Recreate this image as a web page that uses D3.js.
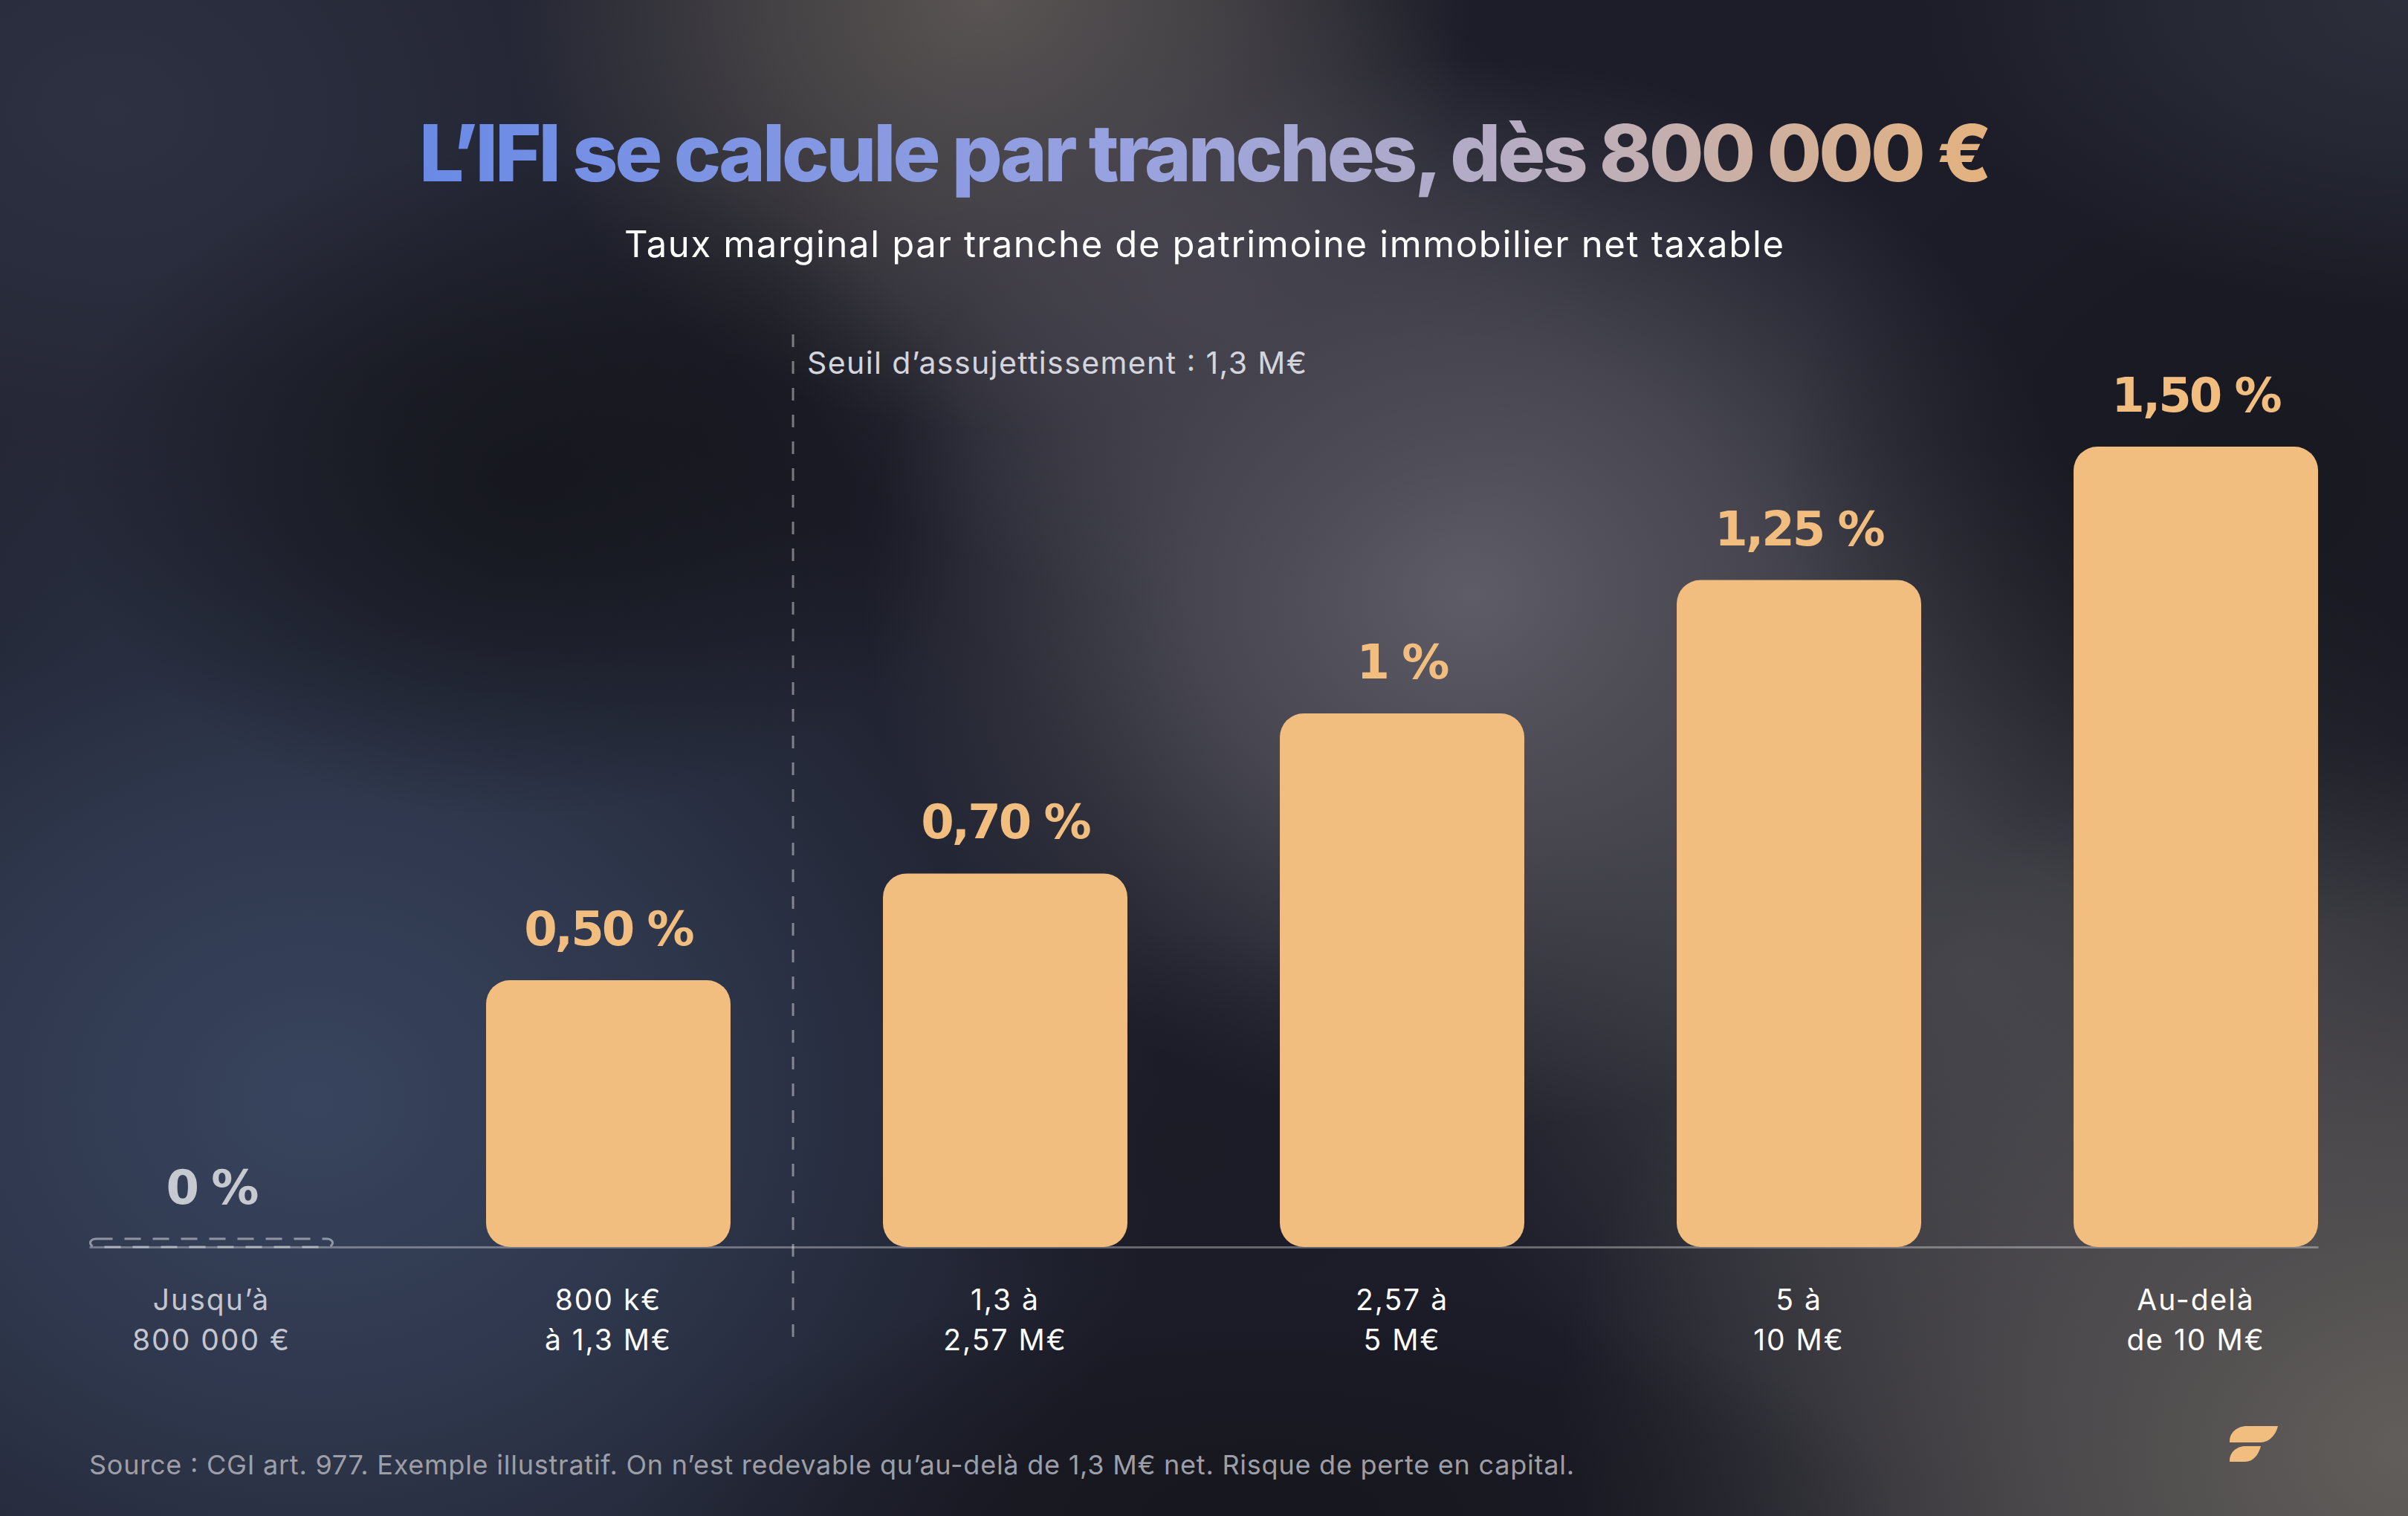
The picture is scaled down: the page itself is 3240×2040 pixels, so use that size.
<!DOCTYPE html>
<html>
<head>
<meta charset="utf-8">
<script src="https://cdn.jsdelivr.net/npm/d3@7"></script>
<style>
  html, body { margin: 0; padding: 0; background: #1a1b27; }
  svg { display: block; }
</style>
</head>
<body>
<div id="chart"></div>
<script>
// IFI tranches - marginal rate per bracket

var catLine1 = ["Jusqu’à", "800 k€", "1,3 à", "2,57 à", "5 à", "Au-delà"];
var catLine2 = ["800 000 €", "à 1,3 M€", "2,57 M€", "5 M€", "10 M€", "de 10 M€"];
var rates = [0, 0.5, 0.7, 1, 1.25, 1.5];
var rateLabels = ["0 %", "0,50 %", "0,70 %", "1 %", "1,25 %", "1,50 %"];
var yMax = 1.5;

var titleText = "L’IFI se calcule par tranches, dès 800 000 €";
var subtitleText = "Taux marginal par tranche de patrimoine immobilier net taxable";
var seuilText = "Seuil d’assujettissement : 1,3 M€";
var sourceText = "Source : CGI art. 977. Exemple illustratif. On n’est redevable qu’au-delà de 1,3 M€ net. Risque de perte en capital.";

var W = 3240, H = 2040;
var margin = {top: 601, left: 120, right: 121, bottom: 362};
var baseY = H - margin.bottom;

var svg = d3.select("#chart")
    .append("svg")
    .attr("width", W)
    .attr("height", H);

var defs = svg.append("defs");

// background: base colour + soft radial glows
svg.append("rect").attr("width", W).attr("height", H).attr("fill", "#1c1d29");

var glows = [
    {cx: 150, cy: 150, rx: 950, ry: 750, c: "#2e3243", o: 0.95},
    {cx: 420, cy: 1480, rx: 1150, ry: 980, c: "#38445e", o: 1},
    {cx: 1330, cy: 0, rx: 650, ry: 580, c: "#5a5553", o: 1},
    {cx: 1980, cy: 800, rx: 820, ry: 720, c: "#5e5c66", o: 1},
    {cx: 1600, cy: 380, rx: 560, ry: 440, c: "#4a4752", o: 0.7},
    {cx: 3240, cy: 1950, rx: 1150, ry: 950, c: "#625e5b", o: 1},
    {cx: 2650, cy: 1300, rx: 800, ry: 700, c: "#504f54", o: 0.75},
    {cx: 700, cy: 650, rx: 620, ry: 450, c: "#131419", o: 0.8},
    {cx: 3050, cy: 650, rx: 650, ry: 600, c: "#17181f", o: 0.85},
    {cx: 1700, cy: 2040, rx: 850, ry: 320, c: "#15151c", o: 0.8},
    {cx: 1600, cy: 1550, rx: 380, ry: 300, c: "#1b1b25", o: 0.6},
    {cx: 3240, cy: 0, rx: 650, ry: 420, c: "#30333f", o: 0.8}
];

glows.forEach(function(d, i) {
    var g = defs.append("radialGradient").attr("id", "glow" + i);
    g.append("stop").attr("offset", "0%").attr("stop-color", d.c).attr("stop-opacity", d.o);
    g.append("stop").attr("offset", "45%").attr("stop-color", d.c).attr("stop-opacity", d.o * 0.65);
    g.append("stop").attr("offset", "100%").attr("stop-color", d.c).attr("stop-opacity", 0);
});

svg.append("g").selectAll("ellipse")
    .data(glows)
    .enter().append("ellipse")
    .attr("cx", function(d) { return d.cx; })
    .attr("cy", function(d) { return d.cy; })
    .attr("rx", function(d) { return d.rx; })
    .attr("ry", function(d) { return d.ry; })
    .attr("fill", function(d, i) { return "url(#glow" + i + ")"; });

// title gradient
var grad = defs.append("linearGradient").attr("id", "titleGrad")
    .attr("gradientUnits", "userSpaceOnUse")
    .attr("x1", 564).attr("x2", 2676).attr("y1", 0).attr("y2", 0);
grad.append("stop").attr("offset", "0%").attr("stop-color", "#6a8ae6");
grad.append("stop").attr("offset", "45%").attr("stop-color", "#98a2e0");
grad.append("stop").attr("offset", "72%").attr("stop-color", "#b9aec0");
grad.append("stop").attr("offset", "100%").attr("stop-color", "#e4b27e");

svg.append("text")
    .attr("x", W / 2)
    .attr("y", 244)
    .attr("text-anchor", "middle")
    .attr("font-family", "Inter")
    .attr("font-weight", 800)
    .attr("font-size", 106)
    .attr("letter-spacing", "-4px")
    .attr("fill", "url(#titleGrad)")
    .attr("textLength", 2112)
    .attr("lengthAdjust", "spacingAndGlyphs")
    .text(titleText);

svg.append("text")
    .attr("x", W / 2)
    .attr("y", 346)
    .attr("text-anchor", "middle")
    .attr("font-family", "Inter")
    .attr("font-weight", 400)
    .attr("font-size", 49)
    .attr("fill", "#ffffff")
    .attr("textLength", 1560)
    .attr("lengthAdjust", "spacing")
    .text(subtitleText);

// scales
var x = d3.scaleBand()
    .range([margin.left, W - margin.right])
    .domain(d3.range(rates.length))
    .paddingInner(0.384)
    .paddingOuter(0);

var y = d3.scaleLinear()
    .domain([0, yMax])
    .range([baseY, margin.top]);

// threshold dashed line between bracket 2 and 3
var seuilX = x(1) + x.bandwidth() + (x.step() - x.bandwidth()) * 0.41;
svg.append("line")
    .attr("x1", seuilX).attr("x2", seuilX)
    .attr("y1", 450).attr("y2", 1800)
    .attr("stroke", "rgba(255,255,255,0.42)")
    .attr("stroke-width", 3)
    .attr("stroke-dasharray", "17,19");

svg.append("text")
    .attr("x", seuilX + 19)
    .attr("y", 503)
    .attr("font-family", "Inter")
    .attr("font-size", 41)
    .attr("fill", "#d4d5dc")
    .attr("textLength", 672)
    .attr("lengthAdjust", "spacing")
    .text(seuilText);

// X axis
var xAxis = svg.append("g")
    .attr("class", "myXaxis")
    .attr("transform", "translate(0," + baseY + ")")
    .call(d3.axisBottom(x).tickSize(0).tickSizeOuter(0).tickFormat(function() { return ""; }));

xAxis.select(".domain")
    .attr("stroke", "rgba(255,255,255,0.32)")
    .attr("stroke-width", 3);

xAxis.selectAll(".tick text").remove();
xAxis.selectAll(".tick").each(function(i) {
    var t = d3.select(this).append("text")
        .attr("text-anchor", "middle")
        .attr("font-family", "Inter")
        .attr("font-size", 39)
        .attr("letter-spacing", "2px")
        .attr("fill", i === 0 ? "#c3c6ce" : "#ffffff")
        .attr("y", 85);
    t.append("tspan").attr("x", 0).text(catLine1[i]);
    t.append("tspan").attr("x", 0).attr("dy", 54).text(catLine2[i]);
});

// bars
var barData = rates.map(function(r, i) { return {i: i, rate: r, label: rateLabels[i]}; });

svg.selectAll(".bar")
    .data(barData.filter(function(d) { return d.rate > 0; }))
    .enter().append("rect")
    .attr("class", "bar")
    .attr("x", function(d) { return x(d.i); })
    .attr("y", function(d) { return y(d.rate); })
    .attr("width", x.bandwidth())
    .attr("height", function(d) { return baseY - y(d.rate); })
    .attr("rx", 32)
    .attr("fill", "#f2be80");

// zero bracket: dashed placeholder
svg.selectAll(".zerobar")
    .data(barData.filter(function(d) { return d.rate === 0; }))
    .enter().append("rect")
    .attr("class", "zerobar")
    .attr("x", function(d) { return x(d.i) + 1.5; })
    .attr("y", baseY - 11)
    .attr("width", x.bandwidth() - 3)
    .attr("height", 11)
    .attr("rx", 8)
    .attr("fill", "none")
    .attr("stroke", "rgba(220,222,230,0.55)")
    .attr("stroke-width", 3)
    .attr("stroke-dasharray", "22,16");

svg.selectAll("text.bartext")
    .data(barData)
    .enter().append("text")
    .attr("class", "bartext")
    .attr("text-anchor", "middle")
    .attr("x", function(d) { return x(d.i) + x.bandwidth() / 2; })
    .attr("y", function(d) { return d.rate > 0 ? y(d.rate) - 47 : baseY - 58; })
    .attr("font-family", "DejaVu Sans")
    .attr("font-weight", 700)
    .attr("font-size", 64)
    .attr("letter-spacing", "-3px")
    .attr("fill", function(d) { return d.rate > 0 ? "#f2be80" : "#c7c9d0"; })
    .text(function(d) { return d.label; });

// footer
svg.append("text")
    .attr("x", 120)
    .attr("y", 1984)
    .attr("font-family", "Inter")
    .attr("font-size", 36)
    .attr("fill", "#9d9fa8")
    .attr("textLength", 1998)
    .attr("lengthAdjust", "spacing")
    .text(sourceText);

// logo
var logo = svg.append("g").attr("fill", "#f2be80");
logo.append("path")
    .attr("d", "M3000,1941 L3000,1939 C3000,1928 3010,1919 3023,1919 L3065,1919 C3062,1932 3052,1941 3042,1941 Z");
logo.append("path")
    .attr("d", "M3000,1967 L3000,1965 C3000,1955 3009,1946 3021,1946 L3042,1946 C3039,1958 3031,1967 3021,1967 Z");
</script>
</body>
</html>
